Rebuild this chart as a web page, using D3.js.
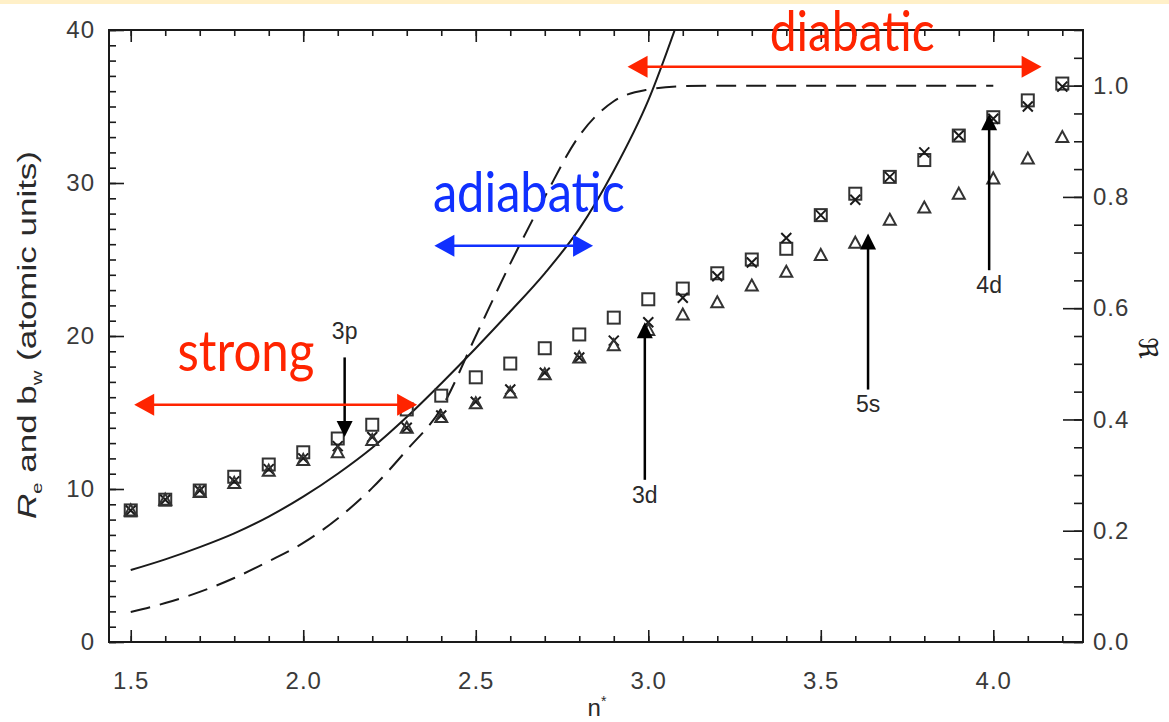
<!DOCTYPE html>
<html><head><meta charset="utf-8">
<script src="https://cdn.jsdelivr.net/npm/d3@7"></script>
<style>body{margin:0;background:#fff}</style>
</head><body>
<svg id="c" width="1169" height="722"></svg>
<script>
// ---------- data ----------
const nStar = [1.5,1.6,1.7,1.8,1.9,2.0,2.1,2.2,2.3,2.4,2.5,2.6,2.7,2.8,2.9,3.0,3.1,3.2,3.3,3.4,3.5,3.6,3.7,3.8,3.9,4.0,4.1,4.2];
const squares = [8.6,9.3,9.9,10.8,11.6,12.4,13.3,14.2,15.2,16.1,17.3,18.2,19.2,20.1,21.2,22.4,23.1,24.1,25.0,25.7,27.9,29.3,30.4,31.5,33.1,34.3,35.4,36.5];
const crosses = [8.6,9.3,9.9,10.5,11.3,12.0,12.8,13.4,14.0,14.8,15.7,16.5,17.6,18.6,19.7,20.9,22.5,23.9,24.8,26.4,27.9,28.9,30.4,32.0,33.1,34.2,35.0,36.3];
const triangles = [8.6,9.3,9.8,10.4,11.2,11.9,12.4,13.2,14.0,14.7,15.6,16.3,17.5,18.6,19.4,20.4,21.4,22.2,23.3,24.2,25.3,26.1,27.6,28.4,29.3,30.3,31.6,33.0];
const solidN = [1.5,1.6,1.7,1.8,1.9,2.0,2.1,2.2,2.3,2.4,2.5,2.6,2.7,2.8,2.9,3.0,3.1];
const solidV = [4.7,5.4,6.2,7.1,8.2,9.5,11.0,12.7,14.7,16.9,19.2,21.6,24.1,27.0,30.8,35.4,41.5];
const dashN = [1.5,1.6,1.7,1.8,1.9,2.0,2.1,2.2,2.3,2.4,2.5,2.6,2.7,2.8,2.9,3.0,3.1,3.2,3.4,3.6,3.8,4.0];
const dashR = [0.054,0.07,0.09,0.115,0.145,0.178,0.222,0.277,0.345,0.42,0.55,0.68,0.80,0.91,0.972,0.993,0.999,1.0,1.0,1.0,1.0,1.0];
const xMajor = [1.5,2.0,2.5,3.0,3.5,4.0];
const xMinor = [1.5,1.6,1.7,1.8,1.9,2.0,2.1,2.2,2.3,2.4,2.5,2.6,2.7,2.8,2.9,3.0,3.1,3.2,3.3,3.4,3.5,3.6,3.7,3.8,3.9,4.0,4.1,4.2];
const yMajor = [0,10,20,30,40];
const rMajor = [0.0,0.2,0.4,0.6,0.8,1.0];
const regions = [
  {label:"strong", color:"#ff2400", from:1.51, to:2.33, level:15.5, tx:1.834, ty:17.7, len:137},
  {label:"adiabatic", color:"#1030ff", from:2.38, to:2.84, level:25.9, tx:2.654, ty:28.1, len:192},
  {label:"diabatic", color:"#ff2400", from:2.94, to:4.14, level:37.6, tx:3.591, ty:38.6, len:165}
];
const levels = [
  {label:"3p", n:2.12, y0:18.6, y1:13.4, ly:20.2},
  {label:"3d", n:2.99, y0:10.6, y1:20.9, ly:9.5},
  {label:"5s", n:3.637, y0:16.5, y1:26.7, ly:15.4},
  {label:"4d", n:3.988, y0:24.3, y1:34.5, ly:23.2}
];

// ---------- scales ----------
const svg = d3.select("#c");
const L=109, R=1083, T=30, B=642;
const x = d3.scaleLinear().domain([1.437,4.26]).range([L,R]);
const y = d3.scaleLinear().domain([0,40]).range([B,T]);
const yr = d3.scaleLinear().domain([0,1.1]).range([B,T]);

svg.append("rect").attr("x",0).attr("y",0).attr("width",1169).attr("height",4).attr("fill","#fff0c8");

const ink = "#1a1a1a";
const tickFont = "'Liberation Sans', Arial, sans-serif";

function styleAxis(g){ g.select(".domain").remove(); g.selectAll("line").attr("stroke",ink).attr("stroke-width",1.6); g.selectAll("text").attr("fill","#3a3a3a").attr("font-family",tickFont).attr("font-size",24).attr("letter-spacing",1); }

// bottom axis
svg.append("g").attr("transform",`translate(0,${B})`).call(d3.axisBottom(x).tickValues(xMinor).tickSize(-6).tickFormat("")).call(styleAxis);
svg.append("g").attr("transform",`translate(0,${B})`).call(d3.axisBottom(x).tickValues(xMajor).tickSize(-12).tickPadding(30).tickFormat(d3.format(".1f"))).call(styleAxis);
// top axis
svg.append("g").attr("transform",`translate(0,${T})`).call(d3.axisTop(x).tickValues(xMinor).tickSize(-6).tickFormat("")).call(styleAxis);
svg.append("g").attr("transform",`translate(0,${T})`).call(d3.axisTop(x).tickValues(xMajor).tickSize(-12).tickFormat("")).call(styleAxis);
// left axis
svg.append("g").attr("transform",`translate(${L},0)`).call(d3.axisLeft(y).tickValues(d3.range(0,41,1)).tickSize(-7).tickFormat("")).call(styleAxis);
svg.append("g").attr("transform",`translate(${L},0)`).call(d3.axisLeft(y).tickValues(yMajor).tickSize(-15).tickPadding(14).tickFormat(d3.format("d"))).call(styleAxis);
// right axis
svg.append("g").attr("transform",`translate(${R},0)`).call(d3.axisRight(yr).tickValues(d3.range(0,1.1001,0.05)).tickSize(-9).tickFormat("")).call(styleAxis);
svg.append("g").attr("transform",`translate(${R},0)`).call(d3.axisRight(yr).tickValues(rMajor).tickSize(-20).tickPadding(10).tickFormat(d3.format(".1f"))).call(styleAxis);

// frame
svg.append("rect").attr("x",L).attr("y",T).attr("width",R-L).attr("height",B-T).attr("fill","none").attr("stroke",ink).attr("stroke-width",2);

// clip
svg.append("clipPath").attr("id","clip").append("rect").attr("x",L).attr("y",T).attr("width",R-L).attr("height",B-T);

// curves
const line = d3.line().curve(d3.curveMonotoneX);
svg.append("path").attr("clip-path","url(#clip)")
  .attr("d", line(solidN.map((n,i)=>[x(n), y(solidV[i])])))
  .attr("fill","none").attr("stroke",ink).attr("stroke-width",2);
svg.append("path").attr("clip-path","url(#clip)")
  .attr("d", line(dashN.map((n,i)=>[x(n), yr(dashR[i])])))
  .attr("fill","none").attr("stroke",ink).attr("stroke-width",2).attr("stroke-dasharray","20,10");

// markers
const mk = svg.append("g").attr("fill","none").attr("stroke",ink).attr("stroke-width",2);
mk.selectAll(".sq").data(nStar).join("rect")
  .attr("x",(d)=>x(d)-6).attr("y",(d,i)=>y(squares[i])-6).attr("width",12).attr("height",12).attr("stroke","#333");
mk.selectAll(".cr").data(nStar).join("path")
  .attr("d",(d,i)=>{const cx=x(d), cy=y(crosses[i]), s=5; return `M${cx-s},${cy-s}L${cx+s},${cy+s}M${cx-s},${cy+s}L${cx+s},${cy-s}`;});
mk.selectAll(".tr").data(nStar).join("path")
  .attr("d",(d,i)=>{const cx=x(d), cy=y(triangles[i]); return `M${cx},${cy-6}L${cx+6},${cy+5}L${cx-6},${cy+5}Z`;}).attr("stroke","#333");

// black level arrows
const la = svg.append("g");
levels.forEach(l=>{
  const cx=x(l.n), a=y(l.y0), b=y(l.y1);
  const dir = b>a ? 1 : -1;
  la.append("line").attr("x1",cx).attr("x2",cx).attr("y1",a).attr("y2",b-dir*14).attr("stroke","#000").attr("stroke-width",2.5);
  la.append("path").attr("d",`M${cx},${b}L${cx-8},${b-dir*16}L${cx+8},${b-dir*16}Z`).attr("fill","#000");
  la.append("text").attr("x",cx).attr("y",y(l.ly)).attr("text-anchor","middle").attr("dominant-baseline","middle")
    .attr("font-family",tickFont).attr("font-size",23).attr("fill","#2a2a2a").text(l.label);
});

// region arrows and labels
regions.forEach(r=>{
  const x0=x(r.from), x1=x(r.to), yy=y(r.level);
  svg.append("line").attr("x1",x0+18).attr("x2",x1-18).attr("y1",yy).attr("y2",yy).attr("stroke",r.color).attr("stroke-width",2.5);
  svg.append("path").attr("d",`M${x0},${yy}L${x0+20},${yy-11}L${x0+20},${yy+11}Z`).attr("fill",r.color);
  svg.append("path").attr("d",`M${x1},${yy}L${x1-20},${yy-11}L${x1-20},${yy+11}Z`).attr("fill",r.color);
  svg.append("text").attr("x",x(r.tx)).attr("y",y(r.ty)).attr("text-anchor","middle")
    .attr("font-family","Lato, 'Open Sans', sans-serif").attr("font-size",56).attr("fill",r.color)
    .attr("textLength",r.len).attr("lengthAdjust","spacingAndGlyphs").text(r.label);
});

// axis titles
const yl = svg.append("text").attr("transform","translate(36,335) rotate(-90)").attr("text-anchor","middle")
  .attr("font-family",tickFont).attr("font-size",26).attr("fill","#2a2a2a")
  .attr("textLength",368).attr("lengthAdjust","spacingAndGlyphs");
yl.append("tspan").attr("font-style","italic").text("R");
yl.append("tspan").attr("font-size",15).attr("dy",6).text("e");
yl.append("tspan").attr("dy",-6).text(" and b");
yl.append("tspan").attr("font-size",15).attr("dy",6).text("w");
yl.append("tspan").attr("dy",-6).text(" (atomic units)");

svg.append("text").attr("transform","translate(1146,348) rotate(90)").attr("text-anchor","middle").attr("dominant-baseline","middle")
  .attr("font-family","'DejaVu Sans', sans-serif").attr("font-size",26).attr("fill","#222").text("ℜ");

const xl = svg.append("text").attr("x",597).attr("y",716).attr("text-anchor","middle")
  .attr("font-family",tickFont).attr("font-size",24).attr("fill","#2a2a2a");
xl.append("tspan").text("n");
xl.append("tspan").attr("font-size",14).attr("dy",-10).text("*");
</script>
</body></html>
